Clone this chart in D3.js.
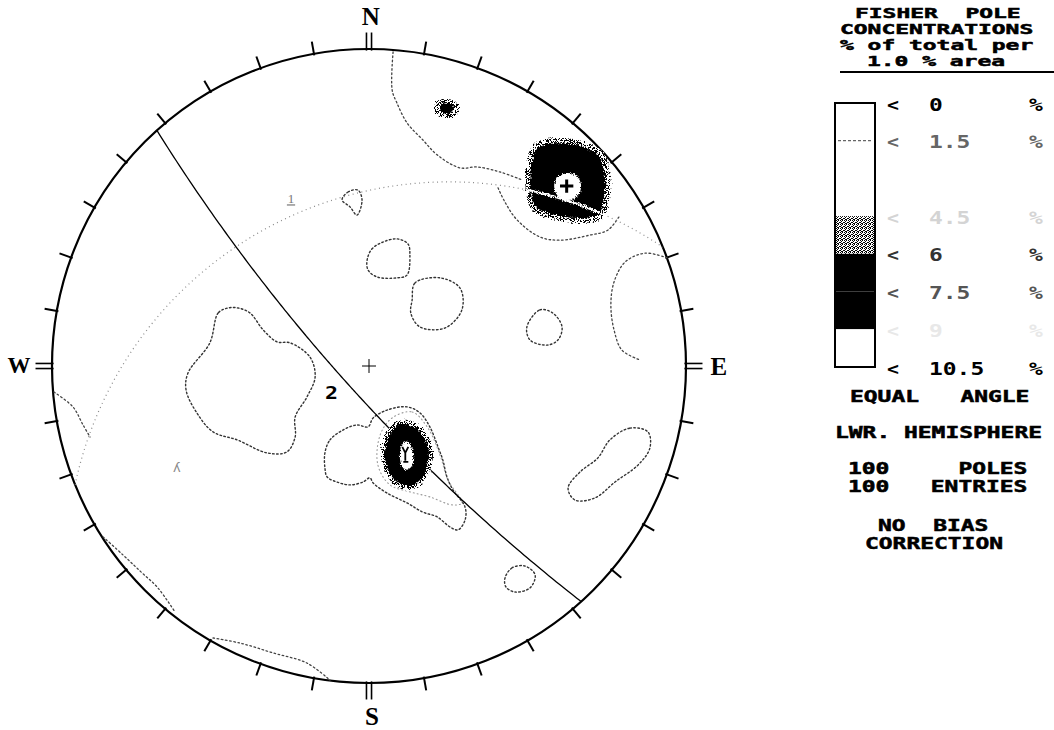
<!DOCTYPE html>
<html>
<head>
<meta charset="utf-8">
<script src="https://cdn.jsdelivr.net/npm/d3@7"></script>
<style>
  html, body { margin: 0; background: #fff; }
  svg { display: block; }
  text, tspan { white-space: pre; }
</style>
</head>
<body>
<svg id="chart" width="1054" height="730"></svg>
<script>
// ---------------------------------------------------------------
// Data: lower-hemisphere equal-angle net, coordinates in percent of
// the primitive radius (east, north). Density levels in % per 1% area.
// ---------------------------------------------------------------

// Mean poles of the two concentrations (trend, plunge in degrees)
const poleSets   = ["1", "2"];
const poleTrend  = [158, 48];
const polePlunge = [56, 10];

// Legend contour levels (%)
const legendLevels = [0, 1.5, 3, 4.5, 6, 7.5, 9, 10.5];

// Legend text
const titleLines = ["FISHER  POLE", "CONCENTRATIONS", "% of total per", "1.0 % area"];
const infoLines  = ["EQUAL   ANGLE", "LWR. HEMISPHERE", "100     POLES", "100   ENTRIES", "NO  BIAS", "CORRECTION"];
const compassLabels = ["N", "E", "S", "W"];

// 1.5 % contours
const c15West = [[-44.5,18.3],[-47.6,16.7],[-50.2,7.3],[-57.1,-2.2],[-57.7,-7.6],[-54.3,-14.8],[-49.2,-20.8],
  [-41.6,-23.3],[-32.2,-27.4],[-25.9,-27.1],[-23.3,-22.4],[-23.3,-16.1],[-19.6,-9.8],[-17.0,-3.5],
  [-18.6,2.8],[-24.9,7.3],[-29.0,7.6],[-33.4,11.4],[-37.5,16.7],[-41.3,18.3]];
const c15Centre = [[-13.9,-27.4],[-12.3,-23.3],[-8.2,-20.2],[-3.8,-18.6],[-0.3,-19.2],[1.3,-16.4],[5.7,-13.9],
  [12.0,-12.9],[16.1,-14.8],[19.2,-19.2],[21.8,-25.6],[23.3,-29.7],[24.6,-35.0],[26.5,-39.1],[30.3,-44.5],
  [30.3,-48.6],[28.1,-51.7],[25.6,-50.8],[21.5,-47.6],[17.0,-46.1],[12.0,-43.2],[5.7,-40.1],[1.3,-36.9],
  [0.3,-35.3],[-1.9,-36.6],[-6.0,-37.5],[-10.1,-36.6],[-13.2,-35.0],[-13.9,-32.2]];
const c15NorthArc = [[7.6,99.1],[7.3,87.1],[8.8,83.0],[12.0,76.7],[17.0,71.3],[21.5,66.6],[28.7,62.5],
  [34.1,62.8],[41.3,61.2],[48.3,58.7]];
const c15NEArc = [[40.7,56.2],[42.9,51.7],[46.7,46.1],[53.9,40.7],[60.3,39.7],[69.7,41.3],[75.4,42.9],[79.2,47.6]];
const c15LoopA = [[-8.5,52.4],[-6.6,54.9],[-3.5,55.5],[-2.2,52.4],[-3.8,47.6],[-6.0,50.2]];
const c15LoopB = [[-0.6,33.4],[0.9,36.9],[4.4,39.1],[8.8,40.1],[12.3,38.5],[12.9,35.0],[12.0,28.7],
  [8.8,27.8],[2.5,28.1],[-0.3,30.3]];
const c15LoopC = [[13.6,20.8],[14.5,26.2],[22.4,27.8],[28.7,24.6],[29.3,17.7],[24.0,12.0],[16.1,12.3],[13.2,16.7]];
const c15LoopD = [[49.8,12.3],[53.9,17.7],[58.0,16.7],[60.9,12.3],[59.6,8.2],[56.2,6.6],[50.8,8.2]];
const c15EastArc = [[94.0,34.1],[87.1,35.6],[80.8,32.8],[77.3,26.5],[76.3,19.2],[77.3,11.4],[79.8,5.0],[85.5,1.9]];
const c15LoopE = [[76.0,-23.3],[82.3,-19.6],[88.0,-20.8],[88.6,-25.9],[84.9,-31.2],[77.6,-36.6],[71.3,-41.6],
  [65.0,-42.3],[62.8,-38.5],[66.6,-33.4],[72.2,-29.0]];
const c15LoopF = [[42.9,-66.9],[45.1,-63.7],[49.2,-63.1],[52.4,-65.9],[50.8,-70.0],[46.1,-71.3],[43.2,-69.7]];
const c15EdgeSW = [[-83.9,-53.9],[-77.6,-59.6],[-72.2,-64.7],[-66.6,-70.0],[-61.2,-77.6]];
const c15EdgeS  = [[-49.2,-85.8],[-40.7,-87.4],[-30.3,-90.5],[-19.6,-93.7],[-12.3,-99.1]];
const c15EdgeW  = [[-99.4,-8.2],[-93.4,-12.9],[-90.2,-18.6],[-88.0,-22.4]];

// 3 % contour around the central concentration
const c30Centre = [[7.3,-16.4],[13.6,-14.5],[18.6,-19.6],[22.4,-28.1],[24.9,-36.0],[29.3,-43.2],[26.2,-43.8],
  [19.2,-41.3],[12.9,-39.7],[6.6,-37.5],[2.8,-31.2],[3.5,-21.8]];

// Concentration cores: 4.5 %, 6 % and 9 % outlines
const blobNE45 = [[52.4,70.3],[60.3,71.9],[68.1,70.7],[73.8,67.5],[76.0,60.3],[75.7,52.4],[73.8,46.7],
  [66.6,45.1],[58.7,46.1],[51.4,49.2],[49.5,55.5],[49.8,65.0]];
const blobNE60 = [[53.3,68.8],[60.3,70.3],[67.5,69.1],[72.6,66.2],[74.4,59.9],[74.1,52.7],[72.2,47.9],
  [66.2,46.7],[59.0,47.6],[52.4,50.5],[51.1,55.5],[51.4,64.4]];
const blobNE90 = [[62.5,60.9],[65.6,59.9],[66.9,56.8],[65.6,53.3],[62.8,52.4],[59.6,53.6],[58.4,56.8],[59.6,59.6]];
const blobC45 = [[10.7,-17.0],[15.5,-18.3],[18.6,-22.1],[20.2,-27.1],[19.2,-32.8],[16.7,-37.2],[12.9,-39.1],
  [8.5,-37.9],[5.4,-34.1],[3.8,-28.7],[4.4,-23.3],[6.9,-18.9]];
const blobC60 = [[10.7,-18.3],[14.8,-19.6],[17.7,-23.0],[18.9,-27.4],[18.0,-32.5],[15.8,-36.3],[12.6,-37.9],
  [8.8,-36.6],[6.3,-33.1],[5.0,-28.7],[5.7,-24.0],[7.6,-20.2]];
const blobC90 = [[11.7,-23.7],[13.2,-25.2],[13.9,-28.1],[13.6,-31.5],[11.7,-32.8],[10.1,-30.9],[9.8,-27.1],[10.4,-24.9]];
const blobN45 = [[21.5,83.6],[24.6,84.2],[27.4,83.3],[28.4,81.1],[27.1,78.9],[24.3,78.2],[21.5,79.2],[20.5,81.4]];
const blobN60 = [[23.0,82.6],[25.6,83.0],[26.8,81.4],[25.9,79.8],[23.3,79.8],[22.4,81.4]];

// ---------------------------------------------------------------
// Layout
// ---------------------------------------------------------------
const CX = 369, CY = 366, R = 317;
const rad = Math.PI / 180;
const x = d3.scaleLinear().domain([-100, 100]).range([CX - R, CX + R]);
const y = d3.scaleLinear().domain([-100, 100]).range([CY + R, CY - R]);
const MONO = "'DejaVu Sans Mono', 'Liberation Mono', monospace";
const SERIF = "'Liberation Serif', 'DejaVu Serif', serif";
const PITCH = 13.8;

const svg = d3.select("#chart");
const defs = svg.append("defs");

// stipple used for the 4.5 - 6 % band
const pat = defs.append("pattern").attr("id", "stipple")
  .attr("width", 4).attr("height", 4).attr("patternUnits", "userSpaceOnUse");
pat.append("rect").attr("width", 4).attr("height", 4).attr("fill", "#fff");
[[0,0],[2,0],[1,1],[3,2],[0,2],[2,3],[1,3]].forEach(([px, py]) =>
  pat.append("rect").attr("x", px).attr("y", py).attr("width", 1).attr("height", 1).attr("fill", "#000"));

// ragged dot-matrix edge for the filled concentrations
const grain = defs.append("filter").attr("id", "grain")
  .attr("x", "-30%").attr("y", "-30%").attr("width", "160%").attr("height", "160%");
grain.append("feTurbulence").attr("type", "fractalNoise").attr("baseFrequency", 0.9)
  .attr("numOctaves", 2).attr("seed", 4).attr("result", "noise");
grain.append("feDisplacementMap").attr("in", "SourceGraphic").attr("in2", "noise")
  .attr("scale", 5).attr("xChannelSelector", "R").attr("yChannelSelector", "G");

// ---------------------------------------------------------------
// Projection helpers
// ---------------------------------------------------------------
function stereo(e, n, d) { return [100 * e / (1 + d), 100 * n / (1 + d)]; }
function projectLine(trend, plunge) {
  const t = trend * rad, p = plunge * rad;
  return stereo(Math.cos(p) * Math.sin(t), Math.cos(p) * Math.cos(t), Math.sin(p));
}
// great circle of the plane whose pole is (trend, plunge)
function greatCircle(trend, plunge) {
  const dd = (trend + 180) * rad, dip = (90 - plunge) * rad;
  const s = [Math.sin(dd - Math.PI / 2), Math.cos(dd - Math.PI / 2), 0];
  const v = [Math.cos(dip) * Math.sin(dd), Math.cos(dip) * Math.cos(dd), Math.sin(dip)];
  return d3.range(0, 180.5, 1).map(a => {
    const c = Math.cos(a * rad), sn = Math.sin(a * rad);
    return stereo(s[0] * c + v[0] * sn, s[1] * c + v[1] * sn, s[2] * c + v[2] * sn);
  });
}

const openLine = d3.line().x(d => x(d[0])).y(d => y(d[1])).curve(d3.curveCatmullRom.alpha(0.5));
const closedLine = d3.line().x(d => x(d[0])).y(d => y(d[1])).curve(d3.curveCatmullRomClosed.alpha(0.5));
const straight = d3.line().x(d => x(d[0])).y(d => y(d[1]));

// ---------------------------------------------------------------
// Net: primitive circle, ticks, compass
// ---------------------------------------------------------------
const net = svg.append("g");
const tickAz = d3.range(0, 360, 10);
tickAz.forEach(az => {
  const se = Math.sin(az * rad), cn = Math.cos(az * rad);
  const cardinal = az % 90 === 0;
  const len = cardinal ? 5.2 : 3.9;
  const offsets = cardinal ? [-0.8, 0.8] : [0];
  offsets.forEach(o => {
    const pe = cn * o, pn = -se * o;
    net.append("line")
      .attr("x1", x(99.5 * se + pe)).attr("y1", y(99.5 * cn + pn))
      .attr("x2", x((100 + len) * se + pe)).attr("y2", y((100 + len) * cn + pn))
      .attr("stroke", "#000").attr("stroke-width", cardinal ? 1.6 : 2);
  });
});
net.append("circle").attr("cx", x(0)).attr("cy", y(0)).attr("r", x(100) - x(0))
  .attr("fill", "none").attr("stroke", "#000").attr("stroke-width", 2.2);

// centre cross
net.append("path").attr("d", straight([[-2.2, 0], [2.2, 0]]) + straight([[0, -2.2], [0, 2.2]]))
  .attr("stroke", "#000").attr("stroke-width", 1);

const compassPos = { N: [0.6, 107.6, 25], E: [110.4, -2.8, 25], S: [0.9, -113.2, 25], W: [-110.4, -2.2, 23] };
compassLabels.forEach(l => {
  const [e, n, fs] = compassPos[l];
  net.append("text").attr("x", x(e)).attr("y", y(n)).attr("text-anchor", "middle")
    .attr("font-family", SERIF).attr("font-weight", "bold").attr("font-size", fs)
    .attr("fill", "#000").text(l);
});

// ---------------------------------------------------------------
// Contours
// ---------------------------------------------------------------
const cont = svg.append("g").attr("fill", "none").attr("stroke-linecap", "round");
const closed15 = [c15West, c15Centre, c15LoopA, c15LoopB, c15LoopC, c15LoopD, c15LoopE, c15LoopF];
const open15 = [c15NorthArc, c15NEArc, c15EastArc, c15EdgeSW, c15EdgeS, c15EdgeW];
closed15.forEach(c => cont.append("path").attr("d", closedLine(c))
  .attr("stroke", "#333").attr("stroke-width", 1.4).attr("stroke-dasharray", "1.6 2.4"));
open15.forEach(c => cont.append("path").attr("d", openLine(c))
  .attr("stroke", "#444").attr("stroke-width", 1.3).attr("stroke-dasharray", "1.6 2.6"));
cont.append("path").attr("d", closedLine(c30Centre))
  .attr("stroke", "#999").attr("stroke-width", 1.1).attr("stroke-dasharray", "1 3");

// ---------------------------------------------------------------
// Great circles of the mean planes
// ---------------------------------------------------------------
const circles = poleTrend.map((t, i) => greatCircle(t, polePlunge[i]));
const gcStyle = [
  { stroke: "#8a8a8a", width: 1.2, dash: "1 3.5" },
  { stroke: "#000", width: 1.3, dash: null }
];
circles.forEach((pts, i) => {
  svg.append("path").attr("d", openLine(pts)).attr("fill", "none")
    .attr("stroke", gcStyle[i].stroke).attr("stroke-width", gcStyle[i].width)
    .attr("stroke-dasharray", gcStyle[i].dash);
});

// ---------------------------------------------------------------
// Filled concentrations
// ---------------------------------------------------------------
defs.append("clipPath").attr("id", "clipNE").append("path").attr("d", closedLine(blobNE45));

function drawBlob(outer, mid, core, extra) {
  const g = svg.append("g").attr("filter", "url(#grain)");
  g.append("path").attr("d", closedLine(outer)).attr("fill", "url(#stipple)");
  g.append("path").attr("d", closedLine(mid)).attr("fill", "#000");
  if (extra) extra(g);
  if (core) g.append("path").attr("d", closedLine(core)).attr("fill", "#fff");
  return g;
}
drawBlob(blobNE45, blobNE60, blobNE90, g => {
  // plane 1 crosses this concentration and shows as a white trace
  g.append("path").attr("d", openLine(circles[0])).attr("fill", "none")
    .attr("stroke", "#fff").attr("stroke-width", 2.4).attr("clip-path", "url(#clipNE)");
});
drawBlob(blobC45, blobC60, blobC90);
drawBlob(blobN45, blobN60, null);

// mean pole markers
const p2 = projectLine(poleTrend[1], polePlunge[1]);
svg.append("path")
  .attr("d", straight([[p2[0] - 2.1, p2[1] + 0.6], [p2[0] + 2.1, p2[1] + 0.6]]) +
             straight([[p2[0], p2[1] - 1.5], [p2[0], p2[1] + 2.7]]))
  .attr("stroke", "#000").attr("stroke-width", 3);
const p1 = projectLine(poleTrend[0], polePlunge[0]);
svg.append("path")
  .attr("d", `M${x(p1[0]) - 3},${y(p1[1]) - 9} L${x(p1[0])},${y(p1[1]) - 3} L${x(p1[0]) + 3},${y(p1[1]) - 9}` +
             ` M${x(p1[0])},${y(p1[1]) - 3} V${y(p1[1]) + 5} M${x(p1[0]) - 2},${y(p1[1]) + 6} H${x(p1[0]) + 3}`)
  .attr("fill", "none").attr("stroke", "#000").attr("stroke-width", 1.8);

// plane labels
svg.append("text").attr("x", x(-25.6)).attr("y", y(51.4))
  .attr("font-family", SERIF).attr("font-size", 13).attr("fill", "#777").text(poleSets[0]);
svg.append("line").attr("x1", x(-25.9)).attr("x2", x(-23.3)).attr("y1", y(50.8)).attr("y2", y(50.8))
  .attr("stroke", "#777").attr("stroke-width", 1.2);
svg.append("text").attr("x", x(-13.9)).attr("y", y(-10.4))
  .attr("font-family", MONO).attr("font-weight", "bold").attr("font-size", 17)
  .attr("textLength", 13).attr("lengthAdjust", "spacingAndGlyphs").attr("fill", "#000").text(poleSets[1]);
svg.append("text").attr("x", x(-60.6)).attr("y", y(-33.4)).attr("text-anchor", "middle")
  .attr("font-family", "'DejaVu Sans', sans-serif").attr("font-size", 13).attr("fill", "#888").text("ʎ");

// ---------------------------------------------------------------
// Legend
// ---------------------------------------------------------------
const leg = svg.append("g");
function monoText(str, xLeft, baseline, opts) {
  const o = Object.assign({ color: "#000", size: 17, len: str.length * PITCH }, opts || {});
  return leg.append("text").attr("x", xLeft).attr("y", baseline)
    .attr("font-family", MONO).attr("font-weight", "bold").attr("font-size", o.size)
    .attr("fill", o.color).attr("stroke", o.color).attr("stroke-width", o.size < 16 ? 0.5 : 0)
    .attr("textLength", o.len).attr("lengthAdjust", "spacingAndGlyphs")
    .text(str);
}
const titleX = [855, 840, 840, 867], titleY = [18, 34, 50, 66];
titleLines.forEach((t, i) => monoText(t, titleX[i], titleY[i], { size: 13.7 }));
leg.append("line").attr("x1", 840).attr("x2", 1054).attr("y1", 72).attr("y2", 72)
  .attr("stroke", "#000").attr("stroke-width", 2);

const levelY = d3.scaleLinear().domain([0, 10.5]).range([103, 367]);
const bandFill = ["#fff", "#fff", "#fff", "url(#stipple)", "#000", "#000", "#fff"];
d3.pairs(legendLevels).forEach(([a, b], i) => {
  leg.append("rect").attr("x", 835).attr("width", 40)
    .attr("y", levelY(a)).attr("height", levelY(b) - levelY(a)).attr("fill", bandFill[i]);
});
leg.append("line").attr("x1", 838).attr("x2", 872).attr("y1", levelY(1.5)).attr("y2", levelY(1.5))
  .attr("stroke", "#666").attr("stroke-width", 1.2).attr("stroke-dasharray", "3 2");
leg.append("rect").attr("x", 835).attr("y", levelY(0)).attr("width", 40)
  .attr("height", levelY(10.5) - levelY(0)).attr("fill", "none").attr("stroke", "#000").attr("stroke-width", 2);

const levelInk = ["#000", "#666", null, "#d4d4d4", "#333", "#555", "#e8e8e8", "#000"];
legendLevels.forEach((v, i) => {
  if (!levelInk[i]) return;
  const base = levelY(v) + 7.5;
  monoText("<", 887, base, { color: levelInk[i], len: 12 });
  monoText(String(v), 929, base, { color: levelInk[i] });
  monoText("%", 1029, base, { color: levelInk[i] });
});

const infoX = [850, 835, 848, 848, 878, 865], infoY = [402, 438, 474, 492, 531, 549];
infoLines.forEach((t, i) => monoText(t, infoX[i], infoY[i], { size: 15.3 }));
</script>
</body>
</html>
